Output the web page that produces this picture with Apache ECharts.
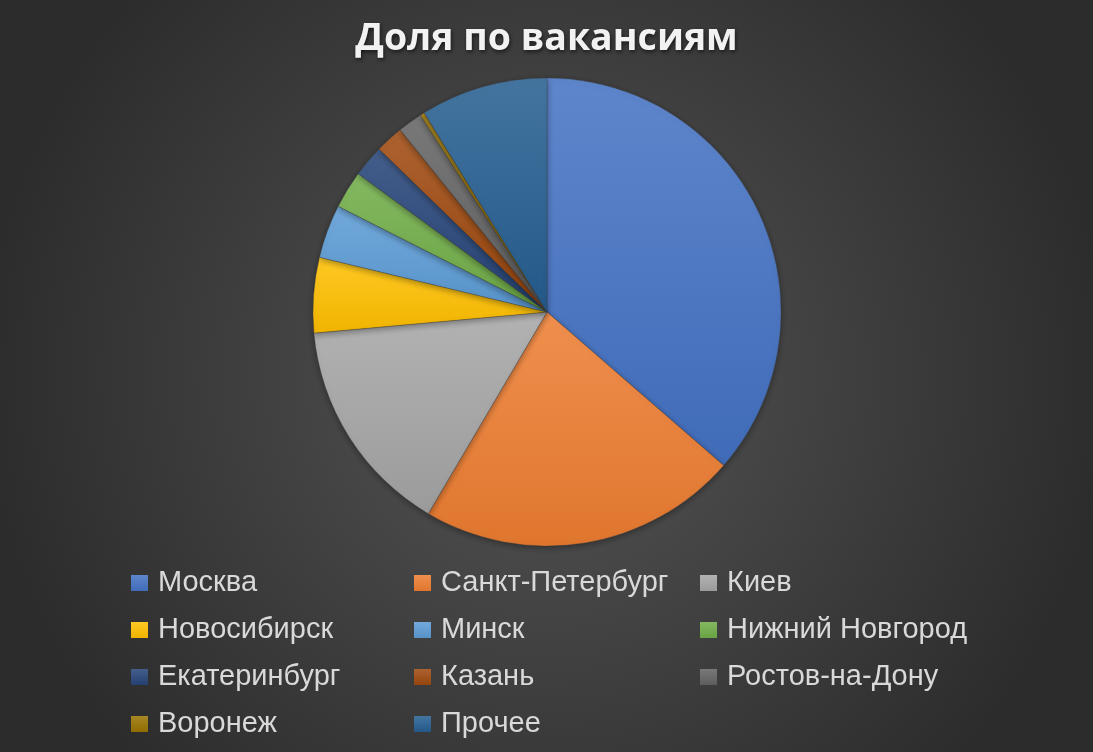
<!DOCTYPE html>
<html>
<head>
<meta charset="utf-8">
<script src="https://cdn.jsdelivr.net/npm/echarts@6/dist/echarts.min.js"></script>
<style>html,body{margin:0;padding:0;background:#333;}#c{width:1093px;height:752px;}</style>
</head>
<body>
<div id="c"></div>
<script>
const categories = ['Москва','Санкт-Петербург','Киев','Новосибирск','Минск','Нижний Новгород','Екатеринбург','Казань','Ростов-на-Дону','Воронеж','Прочее'];
const values = [36.4, 22.1, 15.1, 5.2, 3.7, 2.6, 2.2, 1.95, 1.7, 0.3, 8.8];
const colors = ['#4472C4','#ED7D31','#A5A5A5','#FFC000','#5B9BD5','#70AD47','#264478','#9E480E','#636363','#997300','#255E91'];
const legendCols = [
  ['Москва','Новосибирск','Екатеринбург','Воронеж'],
  ['Санкт-Петербург','Минск','Казань','Прочее'],
  ['Киев','Нижний Новгород','Ростов-на-Дону']
];

function mix(hex, t, target) {
  const n = parseInt(hex.slice(1), 16);
  const r = (n >> 16) & 255, g = (n >> 8) & 255, b = n & 255;
  const f = c => Math.round(c + (target - c) * t);
  return 'rgb(' + f(r) + ',' + f(g) + ',' + f(b) + ')';
}
function grad(hex) {
  return new echarts.graphic.LinearGradient(0, 0, 0, 1, [
    {offset: 0, color: mix(hex, 0.14, 255)},
    {offset: 1, color: mix(hex, 0.06, 0)}
  ]);
}

const chart = echarts.init(document.getElementById('c'), null, {renderer: 'canvas'});
const legendLefts = [131, 414, 700];
const option = {
  animation: false,
  backgroundColor: new echarts.graphic.RadialGradient(0.5, 0.5, 0.75, [
    {offset: 0, color: '#555555'},
    {offset: 1, color: '#2c2c2c'}
  ]),
  title: {
    text: 'Доля по вакансиям',
    left: 'center',
    top: 15,
    textStyle: {
      fontFamily: 'Open Sans',
      fontWeight: 'bold',
      fontSize: 37.5,
      color: '#F2F2F2',
      textShadowColor: 'rgba(0,0,0,0.6)',
      textShadowBlur: 4,
      textShadowOffsetX: 1,
      textShadowOffsetY: 2
    }
  },
  legend: legendCols.map((col, i) => ({
    data: col,
    orient: 'vertical',
    left: legendLefts[i],
    top: 568,
    padding: 0,
    itemWidth: 17,
    itemHeight: 16,
    itemGap: 17,
    icon: 'rect',
    selectedMode: false,
    itemStyle: {borderWidth: 0, shadowBlur: 0},
    textStyle: {
      fontFamily: 'Liberation Sans',
      fontSize: 29,
      lineHeight: 30,
      color: '#D9D9D9',
      padding: [0, 0, 0, 5]
    }
  })),
  series: [{
    type: 'pie',
    center: [547, 312],
    radius: 234,
    startAngle: 90,
    clockwise: true,
    label: {show: false},
    labelLine: {show: false},
    emphasis: {disabled: true},
    itemStyle: {
      borderColor: 'rgba(60,60,60,0.5)',
      borderWidth: 0.6,
      shadowBlur: 6,
      shadowColor: 'rgba(0,0,0,0.35)',
      shadowOffsetY: 2
    },
    data: categories.map((name, i) => ({
      name: name,
      value: values[i],
      itemStyle: {color: grad(colors[i])}
    }))
  }]
};
chart.setOption(option);
</script>
</body>
</html>
